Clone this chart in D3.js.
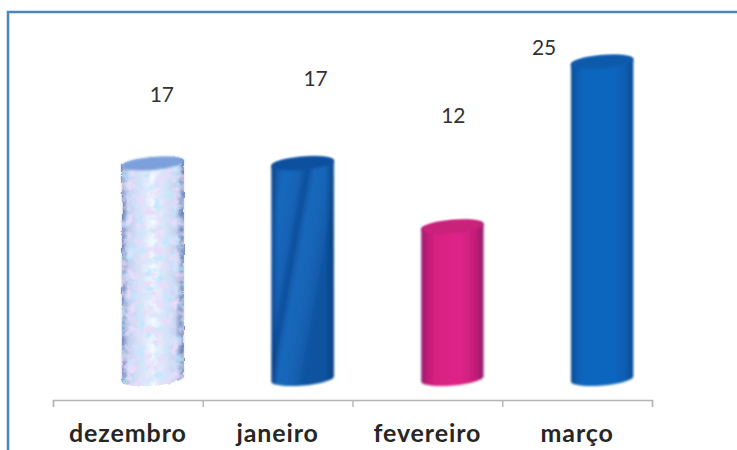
<!DOCTYPE html>
<html>
<head>
<meta charset="utf-8">
<script src="https://cdnjs.cloudflare.com/ajax/libs/d3/7.8.5/d3.min.js"></script>
<style>
html, body { margin: 0; padding: 0; background: #fff; }
svg { display: block; }
text { font-family: Lato, "Open Sans", sans-serif; }
</style>
</head>
<body>
<div id="chart"></div>
<script>
const months = ["dezembro", "janeiro", "fevereiro", "março"];
const values = [17, 17, 12, 25];

// the value labels float freely in the original, nudges from the top of each bar
const labelNudgeX = [9, 13, 1, -58];
const labelNudgeY = [-61, -77, -104, -7];

const w = 737, h = 450;
const left = 53, right = 652, axisY = 400;
const depthX = 25;
const rx = 31, ry = 6.5, tilt = -5;

const svg = d3.select("#chart").append("svg").attr("width", w).attr("height", h);
const defs = svg.append("defs");

const x = d3.scaleBand().domain(months).range([left, right]);
const y = d3.scaleLinear().domain([0, 25]).range([379, 62]);

function gradient(id, stops, x2, y2) {
    const g = defs.append("linearGradient").attr("id", id)
        .attr("x1", 0).attr("y1", 0).attr("x2", x2).attr("y2", y2);
    stops.forEach(s => g.append("stop").attr("offset", s[0]).attr("stop-color", s[1]).attr("stop-opacity", s[2] === undefined ? 1 : s[2]));
}

gradient("janFill", [[0, "#10529f"], [0.22, "#1768bd"], [0.4, "#1463b6"], [0.52, "#0f4f9e"], [0.62, "#1767bb"], [0.8, "#1464b6"], [1, "#10529f"]], 0.83, 0.55);
gradient("fevFill", [[0, "#b81f73"], [0.25, "#d8207f"], [0.6, "#e0228a"], [1, "#b71d70"]], 1, 0);
gradient("marFill", [[0, "#0c58a8"], [0.2, "#1166bd"], [0.7, "#1166bd"], [1, "#0d58a8"]], 1, 0);
gradient("dezFill", [[0, "#7f93c8"], [0.1, "#c2cdee"], [0.5, "#f2f9ff"], [0.86, "#c6d3f0"], [1, "#6f88bf"]], 1, 0);
gradient("edges", [[0, "#0a2a60", 0.45], [0.1, "#0a2a60", 0], [0.88, "#0a2a60", 0], [1, "#0a2a60", 0.5]], 1, 0);

// mottled texture on the first bar
const mottle = defs.append("filter").attr("id", "mottle")
    .attr("x", "-5%").attr("y", "-5%").attr("width", "110%").attr("height", "110%");
mottle.append("feTurbulence").attr("type", "fractalNoise").attr("baseFrequency", "0.11")
    .attr("numOctaves", 3).attr("seed", 4).attr("result", "noise");
mottle.append("feColorMatrix").attr("in", "noise").attr("type", "matrix")
    .attr("values", "0 0 0 0 0.55  0 0 0 0 0.80  0 0 0 0 0.98  3.2 0 0 0 -1.35").attr("result", "tint");
mottle.append("feComposite").attr("in", "tint").attr("in2", "SourceAlpha").attr("operator", "in").attr("result", "spots");
mottle.append("feColorMatrix").attr("in", "noise").attr("type", "matrix")
    .attr("values", "0 0 0 0 0.80  0 0 0 0 0.72  0 0 0 0 0.96  0 3.2 0 0 -1.35").attr("result", "tint2");
mottle.append("feComposite").attr("in", "tint2").attr("in2", "SourceAlpha").attr("operator", "in").attr("result", "spots2");
mottle.append("feDisplacementMap").attr("in", "SourceGraphic").attr("in2", "noise").attr("scale", 3).attr("result", "rough");
const merge = mottle.append("feMerge");
merge.append("feMergeNode").attr("in", "rough");
merge.append("feMergeNode").attr("in", "spots");
merge.append("feMergeNode").attr("in", "spots2");

defs.append("filter").attr("id", "soft").append("feGaussianBlur").attr("stdDeviation", 0.8);

const fills = ["url(#dezFill)", "url(#janFill)", "url(#fevFill)", "url(#marFill)"];
const capFills = ["#7ba0db", "#10509f", "#c8207a", "#0e5aab"];
const edgeOpacity = [0.35, 1, 0.5, 0.5];

const barX = d => x(d) + x.bandwidth() / 2 + depthX;
const dy = rx * Math.tan(tilt * Math.PI / 180);

function bodyPath(d, i) {
    const cx = barX(d), top = y(values[i]), bottom = y(0);
    return `M${cx - rx},${top - dy} L${cx - rx},${bottom - dy}`
        + ` A${rx},${ry} ${tilt} 0 0 ${cx + rx},${bottom + dy}`
        + ` L${cx + rx},${top + dy}`
        + ` A${rx},${ry} ${tilt} 0 0 ${cx - rx},${top - dy} Z`;
}

const bars = svg.selectAll("g.bar").data(months).enter().append("g").attr("class", "bar");

bars.append("path").attr("d", bodyPath)
    .attr("fill", (d, i) => fills[i])
    .attr("filter", (d, i) => i === 0 ? "url(#mottle)" : "url(#soft)");

bars.append("path").attr("d", bodyPath)
    .attr("fill", "url(#edges)")
    .attr("opacity", (d, i) => edgeOpacity[i])
    .attr("filter", "url(#soft)");

bars.append("ellipse")
    .attr("cx", d => barX(d))
    .attr("cy", (d, i) => y(values[i]))
    .attr("rx", rx).attr("ry", ry)
    .attr("transform", (d, i) => `rotate(${tilt} ${barX(d)} ${y(values[i])})`)
    .attr("fill", (d, i) => capFills[i])
    .attr("filter", "url(#soft)");

// value labels
svg.selectAll("text.value").data(months).enter().append("text")
    .attr("class", "value")
    .attr("x", (d, i) => barX(d) + labelNudgeX[i])
    .attr("y", (d, i) => y(values[i]) + labelNudgeY[i])
    .attr("text-anchor", "middle")
    .attr("font-size", 21)
    .attr("fill", "#333")
    .text((d, i) => values[i]);

// axis, ticks sit on the band edges so it is drawn from a linear scale
const edgeScale = d3.scaleLinear().domain([0, months.length]).range([left, right]);
const tickAxis = d3.axisBottom(edgeScale).ticks(months.length).tickFormat("").tickSize(7);
const gTicks = svg.append("g").attr("transform", `translate(0,${axisY})`).call(tickAxis);
gTicks.selectAll("path, line").attr("stroke", "#b5b5b5").attr("stroke-width", 1.4);

const labelAxis = d3.axisBottom(x).tickSize(0).tickPadding(24);
const gLabels = svg.append("g").attr("transform", `translate(0,${axisY})`).call(labelAxis);
gLabels.select("path").remove();
gLabels.selectAll("text")
    .attr("font-family", "Lato, 'Open Sans', sans-serif")
    .attr("font-size", 25)
    .attr("font-weight", 700)
    .attr("letter-spacing", 0.9)
    .attr("fill", "#262626");

// frame of the scanned chart
const frame = d3.path();
frame.moveTo(8, h);
frame.lineTo(8, 12);
frame.lineTo(w, 12);
svg.append("path").attr("d", frame.toString()).attr("fill", "none")
    .attr("stroke", "#4a86ba").attr("stroke-width", 2.5);
</script>
</body>
</html>
